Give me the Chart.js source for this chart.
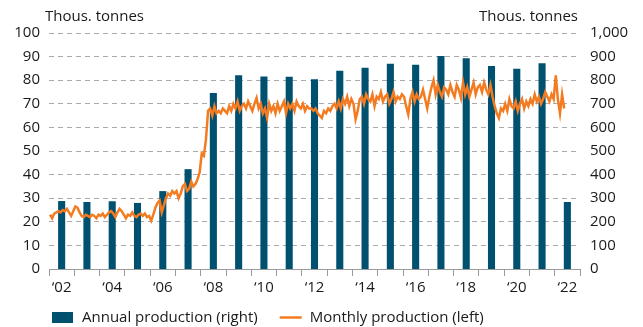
<!DOCTYPE html>
<html>
<head>
<meta charset="utf-8">
<script src="https://cdn.jsdelivr.net/npm/chart.js@4.4.0/dist/chart.umd.min.js"></script>
<style>
  html, body { margin: 0; padding: 0; background: #fff; }
</style>
</head>
<body>
<canvas id="production" width="643" height="327"></canvas>
<script>
const years = [2002, 2003, 2004, 2005, 2006, 2007, 2008, 2009, 2010, 2011, 2012,
               2013, 2014, 2015, 2016, 2017, 2018, 2019, 2020, 2021, 2022];

// thous. tonnes per year (right axis), 2022 is year to date
const annualProduction = [288, 284, 287, 280, 330, 423, 746, 821, 816, 815, 804,
                          840, 853, 870, 865, 903, 893, 860, 849, 872, 284];

// thous. tonnes per month (left axis), Jan 2002 to May 2022
const monthlyProduction = [
  23.0, 21.5, 23.5, 24.0, 24.5, 24.0, 25.0, 24.5, 25.5, 24.0, 22.5, 24.5,
  26.5, 26.0, 24.0, 22.5, 22.0, 23.0, 22.5, 22.0, 23.0, 22.5, 21.5, 23.0,
  22.5, 23.5, 22.0, 23.0, 24.0, 24.5, 23.5, 22.0, 24.0, 25.5, 24.5, 23.0,
  21.5, 23.0, 22.5, 24.0, 22.5, 22.0, 23.0, 23.5, 22.5, 23.5, 22.0, 22.5,
  20.5, 23.0, 26.0, 28.0, 29.0, 24.0, 27.0, 30.0, 32.0, 31.0, 33.0, 32.0,
  33.0, 30.0, 32.0, 35.0, 36.0, 33.0, 34.0, 37.0, 35.0, 36.0, 38.0, 41.0,
  49.0, 48.0, 55.0, 67.0, 68.0, 65.0, 69.0, 66.0, 67.0, 66.0, 68.0, 67.0,
  66.0, 69.0, 67.0, 70.0, 68.0, 71.0, 67.0, 69.0, 70.0, 68.0, 71.0, 69.0,
  67.0, 70.0, 72.5, 68.0, 70.0, 66.0, 68.0, 64.0, 70.0, 67.0, 69.0, 66.0,
  70.0, 67.0, 69.0, 71.0, 66.0, 70.0, 68.0, 70.0, 67.0, 71.0, 69.0, 68.0,
  70.0, 67.0, 69.0, 68.0, 68.0, 67.0, 68.0, 66.0, 65.0, 64.0, 67.0, 66.0,
  68.0, 67.0, 69.0, 70.0, 68.0, 71.0, 68.0, 72.0, 70.0, 73.0, 69.0, 72.0,
  70.0, 63.5, 67.0, 72.0, 73.0, 70.0, 74.0, 72.0, 71.0, 74.0, 69.0, 73.0,
  72.0, 75.0, 71.0, 73.0, 74.0, 70.0, 72.0, 75.0, 71.0, 73.0, 72.0, 74.0,
  73.0, 69.0, 65.5, 72.0, 75.0, 71.0, 74.0, 72.0, 73.0, 76.0, 72.0, 68.0,
  73.0, 77.0, 80.0, 74.0, 78.0, 75.0, 73.0, 77.0, 76.0, 74.0, 78.0, 75.0,
  73.0, 78.0, 76.0, 72.5, 79.0, 74.0, 77.0, 73.0, 76.0, 79.0, 74.0, 77.0,
  78.0, 75.0, 79.0, 76.0, 74.0, 78.0, 73.0, 69.0, 66.0, 64.0, 68.0, 67.0,
  70.0, 67.0, 72.0, 69.0, 68.0, 71.0, 67.0, 70.0, 72.0, 68.0, 71.0, 69.0,
  72.0, 70.0, 74.0, 71.0, 73.0, 70.0, 72.0, 75.0, 73.0, 71.0, 74.0, 72.0,
  82.0, 72.0, 66.0, 74.0, 68.0
];

const unitLabel = 'Thous. tonnes';
const FONT = '"Open Sans", "Noto Sans", sans-serif';
const FONT_SIZE = 15;
const TEXT = '#1a1a1a';
const BLUE = '#00506f';
const ORANGE = '#f47b20';

// months sit inside their year slot on a hidden linear axis
const monthlyPoints = monthlyProduction.map((v, i) => ({ x: i + 0.5, y: v }));

// unit captions above both value axes
const unitCaptions = {
  id: 'unitCaptions',
  afterDraw(chart) {
    const { ctx, chartArea } = chart;
    ctx.save();
    ctx.font = FONT_SIZE + 'px ' + FONT;
    ctx.fillStyle = TEXT;
    ctx.textBaseline = 'middle';
    ctx.textAlign = 'left';
    ctx.fillText(unitLabel, chartArea.left - 4, 17);
    ctx.textAlign = 'right';
    ctx.fillText(unitLabel, chartArea.right - 2, 17);
    ctx.restore();
  }
};

// legend row under the axis: box for bars, short stroke for the line
const bottomLegend = {
  id: 'bottomLegend',
  afterDraw(chart) {
    const { ctx, chartArea } = chart;
    const y = 317.5;
    let x = chartArea.left + 3;
    ctx.save();
    ctx.font = FONT_SIZE + 'px ' + FONT;
    ctx.textBaseline = 'middle';
    ctx.textAlign = 'left';
    chart.data.datasets.forEach(ds => {
      if (ds.type === 'bar') {
        ctx.fillStyle = ds.backgroundColor;
        ctx.fillRect(x, y - 5.5, 21, 11);
      } else {
        ctx.strokeStyle = ds.borderColor;
        ctx.lineWidth = 2.5;
        ctx.beginPath();
        ctx.moveTo(x, y);
        ctx.lineTo(x + 22, y);
        ctx.stroke();
      }
      x += 30;
      ctx.fillStyle = TEXT;
      ctx.fillText(ds.label, x, y);
      x += ctx.measureText(ds.label).width + 22;
    });
    ctx.restore();
  }
};

new Chart(document.getElementById('production'), {
  data: {
    labels: years,
    datasets: [
      {
        type: 'bar',
        label: 'Annual production (right)',
        data: annualProduction,
        backgroundColor: BLUE,
        xAxisID: 'x',
        yAxisID: 'y1',
        grouped: false,
        barPercentage: 0.28,
        categoryPercentage: 1,
        order: 1
      },
      {
        type: 'line',
        label: 'Monthly production (left)',
        data: monthlyPoints,
        borderColor: ORANGE,
        borderWidth: 2.5,
        pointRadius: 0,
        tension: 0,
        xAxisID: 'xm',
        yAxisID: 'y',
        order: 0
      }
    ]
  },
  options: {
    responsive: false,
    animation: false,
    layout: { padding: { top: 33, left: 0, right: 0, bottom: 31 } },
    plugins: {
      legend: { display: false },
      tooltip: { enabled: false }
    },
    scales: {
      x: {
        type: 'category',
        offset: true,
        grid: {
          offset: true,
          drawOnChartArea: false,
          drawTicks: true,
          tickLength: 7,
          color: '#9a9a9a'
        },
        border: { display: true, color: '#9a9a9a', width: 1 },
        ticks: {
          autoSkip: false,
          maxRotation: 0,
          padding: 3,
          color: TEXT,
          font: { family: FONT, size: FONT_SIZE },
          callback: function (value) {
            const yr = years[value];
            return yr % 2 === 0 ? '\u2018' + String(yr).slice(2) : '';
          }
        },
        afterFit: scale => { scale.height = 27; }
      },
      xm: {
        type: 'linear',
        display: false,
        min: 0,
        max: years.length * 12
      },
      y: {
        position: 'left',
        min: 0,
        max: 100,
        grid: {
          drawTicks: false,
          color: ctx => ctx.tick.value === 0 ? 'rgba(0,0,0,0)' : '#ababab'
        },
        border: { display: false, dash: [5, 4] },
        ticks: {
          stepSize: 10,
          padding: 9,
          color: TEXT,
          font: { family: FONT, size: FONT_SIZE }
        },
        afterFit: scale => { scale.width = 49; }
      },
      y1: {
        position: 'right',
        min: 0,
        max: 1000,
        grid: { display: false, drawTicks: false },
        border: { display: false },
        ticks: {
          stepSize: 100,
          padding: 10,
          color: TEXT,
          font: { family: FONT, size: FONT_SIZE },
          callback: v => v.toLocaleString('en-US')
        },
        afterFit: scale => { scale.width = 63; }
      }
    }
  },
  plugins: [unitCaptions, bottomLegend]
});
</script>
</body>
</html>
